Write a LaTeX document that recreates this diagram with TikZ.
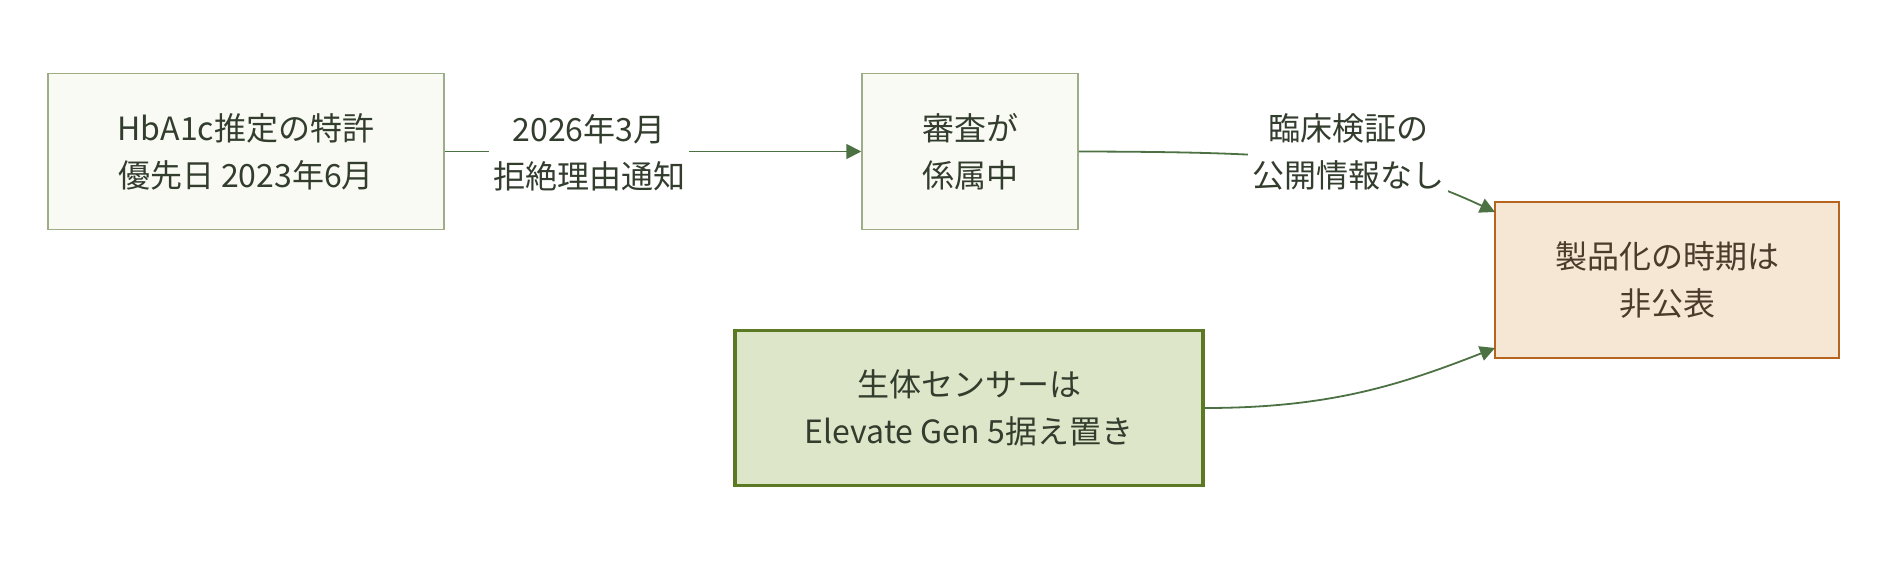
\documentclass[tikz,border=0pt]{standalone}
\usepackage{fontspec}
\setmainfont{Noto Sans CJK JP}
\usetikzlibrary{arrows.meta}
\definecolor{edgec}{HTML}{4C7143}
\definecolor{txtc}{HTML}{333D2E}
\definecolor{paleFill}{HTML}{F8FAF3}
\definecolor{paleDraw}{HTML}{9CAD88}
\definecolor{orFill}{HTML}{F6E6D4}
\definecolor{orDraw}{HTML}{B5651D}
\definecolor{orTxt}{HTML}{4A3B2A}
\definecolor{gFill}{HTML}{DDE6C8}
\definecolor{gDraw}{HTML}{5C7A23}
\tikzset{
  base/.style={rectangle, align=center, inner sep=0pt, font=\fontsize{32}{47}\selectfont, text=txtc},
  palebox/.style={base, fill=paleFill, draw=paleDraw, line width=1.5pt},
  orbox/.style={base, fill=orFill, draw=orDraw, line width=2pt, text=orTxt},
  gbox/.style={base, fill=gFill, draw=gDraw, line width=3.5pt},
  conn/.style={draw=edgec, line width=1.8pt, -{Triangle[length=15pt,width=15pt]}},
  elabel/.style={fill=white, align=center, inner xsep=4pt, inner ysep=2pt, font=\fontsize{32}{47}\selectfont, text=txtc},
}
\begin{document}
\begin{tikzpicture}[x=1pt,y=-1pt]
\useasboundingbox (0,0) rectangle (1886,564);
\node[palebox, minimum width=396pt, minimum height=156pt] (a) at (246,151.5) {HbA1c推定の特許\\優先日 2023年6月};
\node[palebox, minimum width=216pt, minimum height=156pt] (b) at (970,151.5) {審査が\\係属中};
\node[orbox, minimum width=344pt, minimum height=156pt] (c) at (1667,280) {製品化の時期は\\非公表};
\node[gbox, minimum width=468pt, minimum height=155pt] (d) at (969,408) {生体センサーは\\Elevate Gen 5据え置き};
\coordinate (cTop) at (1495,212);
\coordinate (cBot) at (1495,348);
\draw[conn] (a.east) -- (b.west);
\node[elabel] (la) at (589,153) {2026年3月\\拒絶理由通知};
\draw[conn] (b.east) .. controls (1300,152) and (1380,158) .. (cTop);
\node[elabel] (lb) at (1348,152) {臨床検証の\\公開情報なし};
\draw[conn] (d.east) .. controls (1330,408) and (1400,385) .. (cBot);
\end{tikzpicture}
\end{document}
